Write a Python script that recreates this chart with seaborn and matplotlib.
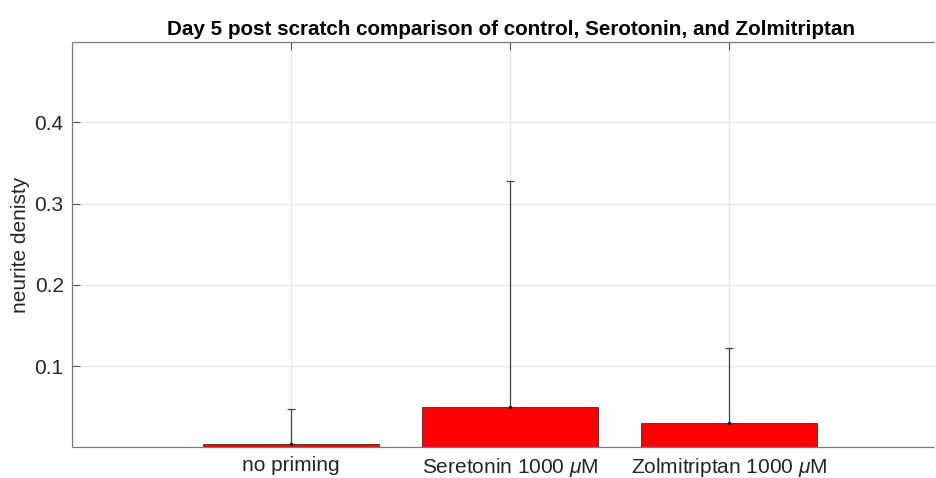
import matplotlib
matplotlib.use("Agg")
import matplotlib.pyplot as plt
from matplotlib.lines import Line2D
import seaborn as sns
import pandas as pd

categories = ["no priming", "Seretonin 1000 $\\mu$M", "Zolmitriptan 1000 $\\mu$M"]
means = [0.0043, 0.0495, 0.0300]
errors = [0.0427, 0.2785, 0.0918]
yticks = [0.1, 0.2, 0.3, 0.4]

sns.set_theme(style="white")
plt.rcParams["font.family"] = ["Liberation Sans", "DejaVu Sans"]
plt.rcParams["mathtext.fontset"] = "custom"
plt.rcParams["mathtext.it"] = "Liberation Sans:italic"
plt.rcParams["mathtext.rm"] = "Liberation Sans"

df = pd.DataFrame({"condition": categories, "density": means})

fig = plt.figure(figsize=(9.36, 4.78), dpi=100)
W, H = 936, 478
# the plot area runs to the right edge of the figure; x range trimmed to match
left, right, top, bottom = 72, 936, 41.5, 447.3
unit = 219.0
ax = fig.add_axes([left / W, 1 - bottom / H, (right - left) / W, (bottom - top) / H])
ax.patch.set_visible(False)

sns.barplot(data=df, x="condition", y="density", order=categories, color="#ff0000",
            saturation=1, width=0.8, edgecolor="#333333", linewidth=0.6, ax=ax,
            errorbar=None, zorder=2)

ax.errorbar(range(len(categories)), means, yerr=[[0] * len(errors), errors], fmt=".",
            color="#222222", ecolor="#444444", elinewidth=0.9, capsize=3, capthick=0.9,
            markersize=3, zorder=3)

ax.set_xlim(-1, -1 + (right - left) / unit)
ax.set_ylim(0, 0.4994)
ax.set_yticks(yticks)
ax.set_yticklabels([f"{t:.1f}" for t in yticks])
ax.set_xticks(range(len(categories)))
ax.set_xticklabels(categories)

ax.grid(True, color="#e6e6e6", linewidth=0.8, zorder=0)
ax.set_axisbelow(True)

# open box: left, top and bottom edges only, with butt ends
for s in ax.spines.values():
    s.set_visible(False)
frame_kw = dict(transform=ax.transAxes, color="#7a7a7a", linewidth=0.9, clip_on=False,
                zorder=4, solid_capstyle="butt")
ax.add_line(Line2D([0, 0], [0, 1], **frame_kw))
ax.add_line(Line2D([0, 0.998], [0, 0], **frame_kw))
ax.add_line(Line2D([0, 0.998], [1, 1], **frame_kw))

ax.tick_params(axis="both", direction="in", length=6, width=0.8, color="#555555",
               labelsize=15, labelcolor="#262626", pad=6, top=True, left=True, bottom=True,
               right=False)

ax.set_xlabel("")
ax.set_ylabel("neurite denisty", fontsize=15, color="#262626", labelpad=3)
ax.set_title("Day 5 post scratch comparison of control, Serotonin, and Zolmitriptan",
             fontsize=14.9, fontweight="bold", color="black", pad=5, x=(511 - left) / (right - left))

fig.savefig("out.png", dpi=100, facecolor="white")
